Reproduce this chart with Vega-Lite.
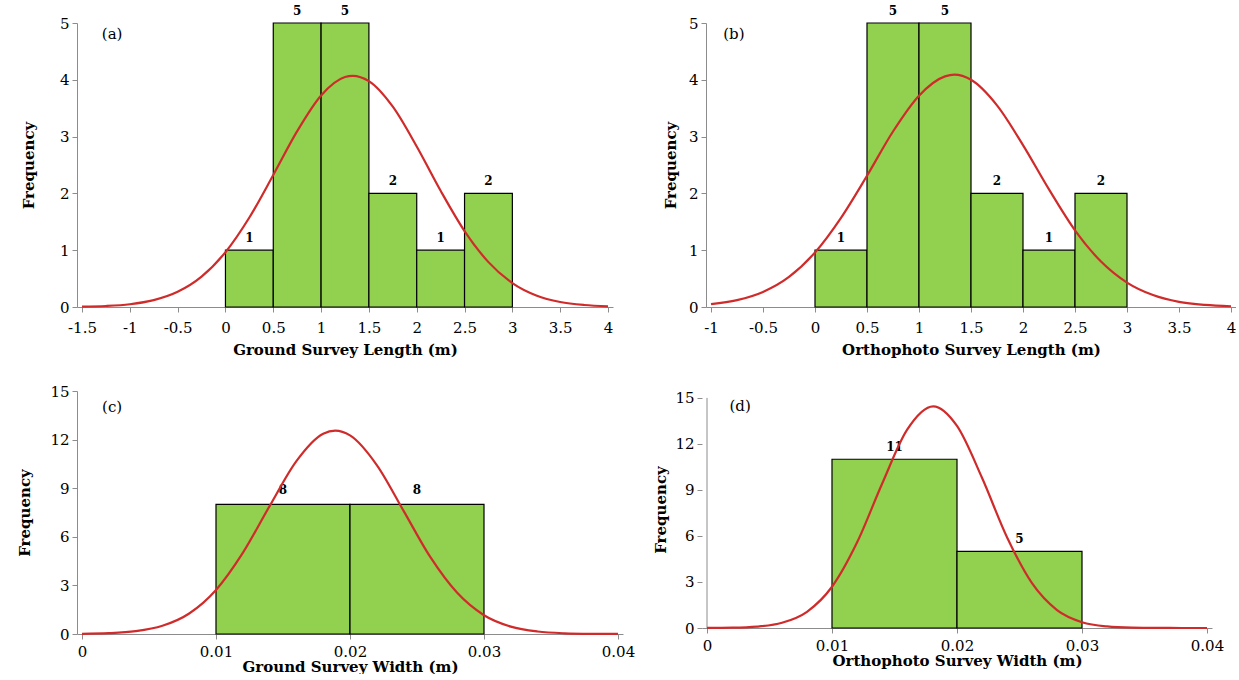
{
  "$schema": "https://vega.github.io/schema/vega-lite/v6.json",
  "padding": {"left": 17, "top": 5, "right": 0, "bottom": 0},
  "background": "white",
  "config": {
    "font": "DejaVu Serif",
    "view": {"stroke": null},
    "axis": {
      "labelFont": "DejaVu Serif", "labelFontSize": 15, "labelColor": "#000",
      "titleFont": "DejaVu Serif", "titleFontSize": 15, "titleFontWeight": "bold", "titleColor": "#000",
      "domainColor": "#8c8c8c", "tickColor": "#8c8c8c", "tickSize": 5, "grid": false, "labelPadding": 3,
      "labelExpr": "'' + datum.value", "labelOverlap": false
    },
    "text": {"font": "DejaVu Serif"}
  },
  "datasets": {
    "barsA": [
      {"bin_start": 0, "bin_end": 0.5, "mid": 0.25, "count": 1},
      {"bin_start": 0.5, "bin_end": 1, "mid": 0.75, "count": 5},
      {"bin_start": 1, "bin_end": 1.5, "mid": 1.25, "count": 5},
      {"bin_start": 1.5, "bin_end": 2, "mid": 1.75, "count": 2},
      {"bin_start": 2, "bin_end": 2.5, "mid": 2.25, "count": 1},
      {"bin_start": 2.5, "bin_end": 3, "mid": 2.75, "count": 2}
    ],
    "barsB": [
      {"bin_start": 0, "bin_end": 0.5, "mid": 0.25, "count": 1},
      {"bin_start": 0.5, "bin_end": 1, "mid": 0.75, "count": 5},
      {"bin_start": 1, "bin_end": 1.5, "mid": 1.25, "count": 5},
      {"bin_start": 1.5, "bin_end": 2, "mid": 1.75, "count": 2},
      {"bin_start": 2, "bin_end": 2.5, "mid": 2.25, "count": 1},
      {"bin_start": 2.5, "bin_end": 3, "mid": 2.75, "count": 2}
    ],
    "barsC": [
      {"bin_start": 0.01, "bin_end": 0.02, "mid": 0.015, "count": 8},
      {"bin_start": 0.02, "bin_end": 0.03, "mid": 0.025, "count": 8}
    ],
    "barsD": [
      {"bin_start": 0.01, "bin_end": 0.02, "mid": 0.015, "count": 11},
      {"bin_start": 0.02, "bin_end": 0.03, "mid": 0.025, "count": 5}
    ],
    "axisD": [
      {"x": 0, "y": 0, "y2": 15}
    ],
    "curveA": [
      {"x": -1.5, "y": 0.006}, {"x": -1.25, "y": 0.018}, {"x": -1.0, "y": 0.049}, {"x": -0.75, "y": 0.121},
      {"x": -0.5, "y": 0.267}, {"x": -0.25, "y": 0.534}, {"x": 0, "y": 0.965}, {"x": 0.25, "y": 1.575},
      {"x": 0.5, "y": 2.324}, {"x": 0.75, "y": 3.096}, {"x": 1.0, "y": 3.725}, {"x": 1.25, "y": 4.049},
      {"x": 1.33, "y": 4.07}, {"x": 1.5, "y": 3.976}, {"x": 1.75, "y": 3.526}, {"x": 2.0, "y": 2.825},
      {"x": 2.25, "y": 2.046}, {"x": 2.5, "y": 1.337}, {"x": 2.75, "y": 0.79}, {"x": 3.0, "y": 0.421},
      {"x": 3.25, "y": 0.203}, {"x": 3.5, "y": 0.088}, {"x": 3.75, "y": 0.035}, {"x": 4.0, "y": 0.012}
    ],
    "curveB": [
      {"x": -1.0, "y": 0.05}, {"x": -0.75, "y": 0.122},
      {"x": -0.5, "y": 0.266}, {"x": -0.25, "y": 0.53}, {"x": 0, "y": 0.96}, {"x": 0.25, "y": 1.57},
      {"x": 0.5, "y": 2.31}, {"x": 0.75, "y": 3.09}, {"x": 1.0, "y": 3.72}, {"x": 1.25, "y": 4.06},
      {"x": 1.34, "y": 4.09}, {"x": 1.5, "y": 4.0}, {"x": 1.75, "y": 3.55}, {"x": 2.0, "y": 2.85},
      {"x": 2.25, "y": 2.07}, {"x": 2.5, "y": 1.35}, {"x": 2.75, "y": 0.8}, {"x": 3.0, "y": 0.43},
      {"x": 3.25, "y": 0.21}, {"x": 3.5, "y": 0.09}, {"x": 3.75, "y": 0.036}, {"x": 4.0, "y": 0.013}
    ],
    "curveC": [
      {"x": 0, "y": 0.013}, {"x": 0.002, "y": 0.051}, {"x": 0.004, "y": 0.173}, {"x": 0.006, "y": 0.506},
      {"x": 0.008, "y": 1.267}, {"x": 0.01, "y": 2.72}, {"x": 0.012, "y": 5.006}, {"x": 0.014, "y": 7.895},
      {"x": 0.016, "y": 10.67}, {"x": 0.018, "y": 12.36}, {"x": 0.0189, "y": 12.55}, {"x": 0.02, "y": 12.26},
      {"x": 0.022, "y": 10.43}, {"x": 0.024, "y": 7.6}, {"x": 0.026, "y": 4.74}, {"x": 0.028, "y": 2.54},
      {"x": 0.03, "y": 1.16}, {"x": 0.032, "y": 0.457}, {"x": 0.034, "y": 0.154}, {"x": 0.036, "y": 0.044},
      {"x": 0.038, "y": 0.011}, {"x": 0.04, "y": 0.003}
    ],
    "curveD": [
      {"x": 0, "y": 0.003}, {"x": 0.002, "y": 0.019}, {"x": 0.004, "y": 0.089}, {"x": 0.006, "y": 0.339},
      {"x": 0.008, "y": 1.058}, {"x": 0.01, "y": 2.69}, {"x": 0.012, "y": 5.57}, {"x": 0.014, "y": 9.39},
      {"x": 0.016, "y": 12.91}, {"x": 0.0181, "y": 14.45}, {"x": 0.02, "y": 13.17},
      {"x": 0.022, "y": 9.79}, {"x": 0.024, "y": 5.92}, {"x": 0.026, "y": 2.92}, {"x": 0.028, "y": 1.17},
      {"x": 0.03, "y": 0.38}, {"x": 0.032, "y": 0.102}, {"x": 0.034, "y": 0.022}, {"x": 0.036, "y": 0.004},
      {"x": 0.038, "y": 0.001}, {"x": 0.04, "y": 0.0}
    ]
  },
  "spacing": 27,
  "vconcat": [
    {
      "spacing": 50,
      "hconcat": [
        {
          "width": 536, "height": 284,
          "layer": [
            {
              "data": {"name": "barsA"},
              "mark": {"type": "bar", "fill": "#92D050", "stroke": "#000", "strokeWidth": 1.2, "orient": "vertical"},
              "encoding": {
                "x": {"field": "bin_start", "type": "quantitative",
                  "scale": {"domain": [-1.5, 4], "nice": false, "zero": false},
                  "axis": {"values": [-1.5, -1, -0.5, 0, 0.5, 1, 1.5, 2, 2.5, 3, 3.5, 4], "title": "Ground Survey Length (m)", "titlePadding": 7, "labelPadding": 8}},
                "x2": {"field": "bin_end"},
                "y": {"field": "count", "type": "quantitative",
                  "scale": {"domain": [0, 5], "nice": false},
                  "axis": {"values": [0, 1, 2, 3, 4, 5], "title": "Frequency", "titlePadding": 23}},
                "y2": {"datum": 0}
              }
            },
            {
              "data": {"name": "barsA"},
              "mark": {"type": "text", "fontWeight": "bold", "fontSize": 12, "dy": -12},
              "encoding": {
                "x": {"field": "mid", "type": "quantitative"},
                "y": {"field": "count", "type": "quantitative"},
                "text": {"field": "count", "type": "quantitative"}
              }
            },
            {
              "data": {"name": "curveA"},
              "mark": {"type": "line", "color": "#D02B2B", "strokeWidth": 2.2, "interpolate": "monotone"},
              "encoding": {
                "x": {"field": "x", "type": "quantitative"},
                "y": {"field": "y", "type": "quantitative"}
              }
            },
            {
              "data": {"values": [{"x": -1.185, "y": 4.8, "label": "(a)"}]},
              "mark": {"type": "text", "fontSize": 15},
              "encoding": {
                "x": {"field": "x", "type": "quantitative"},
                "y": {"field": "y", "type": "quantitative"},
                "text": {"field": "label"}
              }
            }
          ]
        },
        {
          "width": 530, "height": 284,
          "layer": [
            {
              "data": {"name": "barsB"},
              "mark": {"type": "bar", "fill": "#92D050", "stroke": "#000", "strokeWidth": 1.2, "orient": "vertical"},
              "encoding": {
                "x": {"field": "bin_start", "type": "quantitative",
                  "scale": {"domain": [-1, 4], "nice": false, "zero": false},
                  "axis": {"values": [-1, -0.5, 0, 0.5, 1, 1.5, 2, 2.5, 3, 3.5, 4], "title": "Orthophoto Survey Length (m)", "titlePadding": 7, "labelPadding": 8}},
                "x2": {"field": "bin_end"},
                "y": {"field": "count", "type": "quantitative",
                  "scale": {"domain": [0, 5], "nice": false},
                  "axis": {"values": [0, 1, 2, 3, 4, 5], "title": "Frequency", "titlePadding": 10}},
                "y2": {"datum": 0}
              }
            },
            {
              "data": {"name": "barsB"},
              "mark": {"type": "text", "fontWeight": "bold", "fontSize": 12, "dy": -12},
              "encoding": {
                "x": {"field": "mid", "type": "quantitative"},
                "y": {"field": "count", "type": "quantitative"},
                "text": {"field": "count", "type": "quantitative"}
              }
            },
            {
              "data": {"name": "curveB"},
              "mark": {"type": "line", "color": "#D02B2B", "strokeWidth": 2.2, "interpolate": "monotone"},
              "encoding": {
                "x": {"field": "x", "type": "quantitative"},
                "y": {"field": "y", "type": "quantitative"}
              }
            },
            {
              "data": {"values": [{"x": -0.78, "y": 4.8, "label": "(b)"}]},
              "mark": {"type": "text", "fontSize": 15},
              "encoding": {
                "x": {"field": "x", "type": "quantitative"},
                "y": {"field": "y", "type": "quantitative"},
                "text": {"field": "label"}
              }
            }
          ]
        }
      ]
    },
    {
      "spacing": 18,
      "hconcat": [
        {
          "width": 546, "height": 243,
          "layer": [
            {
              "data": {"name": "barsC"},
              "mark": {"type": "bar", "fill": "#92D050", "stroke": "#000", "strokeWidth": 1.2, "orient": "vertical"},
              "encoding": {
                "x": {"field": "bin_start", "type": "quantitative",
                  "scale": {"domain": [0, 0.04], "nice": false, "zero": false},
                  "axis": {"values": [0, 0.01, 0.02, 0.03, 0.04], "title": "Ground Survey Width (m)", "titlePadding": 0, "labelPadding": 5}},
                "x2": {"field": "bin_end"},
                "y": {"field": "count", "type": "quantitative",
                  "scale": {"domain": [0, 15], "nice": false},
                  "axis": {"values": [0, 3, 6, 9, 12, 15], "title": "Frequency", "titlePadding": 17}},
                "y2": {"datum": 0}
              }
            },
            {
              "data": {"name": "barsC"},
              "mark": {"type": "text", "fontWeight": "bold", "fontSize": 12, "dy": -14},
              "encoding": {
                "x": {"field": "mid", "type": "quantitative"},
                "y": {"field": "count", "type": "quantitative"},
                "text": {"field": "count", "type": "quantitative"}
              }
            },
            {
              "data": {"name": "curveC"},
              "mark": {"type": "line", "color": "#D02B2B", "strokeWidth": 2.2, "interpolate": "monotone"},
              "encoding": {
                "x": {"field": "x", "type": "quantitative"},
                "y": {"field": "y", "type": "quantitative"}
              }
            },
            {
              "data": {"values": [{"x": 0.00225, "y": 14.0, "label": "(c)"}]},
              "mark": {"type": "text", "fontSize": 15},
              "encoding": {
                "x": {"field": "x", "type": "quantitative"},
                "y": {"field": "y", "type": "quantitative"},
                "text": {"field": "label"}
              }
            }
          ]
        },
        {
          "width": 510, "height": 237,
          "layer": [
            {
              "data": {"name": "barsD"},
              "mark": {"type": "bar", "fill": "#92D050", "stroke": "#000", "strokeWidth": 1.2, "orient": "vertical"},
              "encoding": {
                "x": {"field": "bin_start", "type": "quantitative",
                  "scale": {"domain": [0, 0.04], "nice": false, "zero": false},
                  "axis": {"values": [0, 0.01, 0.02, 0.03, 0.04], "title": "Orthophoto Survey Width (m)", "titlePadding": 0, "labelPadding": 5}},
                "x2": {"field": "bin_end"},
                "y": {"field": "count", "type": "quantitative",
                  "scale": {"domain": [0, 15.45], "nice": false},
                  "axis": {"values": [0, 3, 6, 9, 12, 15], "title": "Frequency", "titlePadding": 6, "domain": false}},
                "y2": {"datum": 0}
              }
            },
            {
              "data": {"name": "axisD"},
              "mark": {"type": "rule", "color": "#8c8c8c", "strokeWidth": 1},
              "encoding": {
                "x": {"field": "x", "type": "quantitative"},
                "y": {"field": "y", "type": "quantitative"},
                "y2": {"field": "y2"}
              }
            },
            {
              "data": {"name": "barsD"},
              "mark": {"type": "text", "fontWeight": "bold", "fontSize": 12, "dy": -12},
              "encoding": {
                "x": {"field": "mid", "type": "quantitative"},
                "y": {"field": "count", "type": "quantitative"},
                "text": {"field": "count", "type": "quantitative"}
              }
            },
            {
              "data": {"name": "curveD"},
              "mark": {"type": "line", "color": "#D02B2B", "strokeWidth": 2.2, "interpolate": "monotone"},
              "encoding": {
                "x": {"field": "x", "type": "quantitative"},
                "y": {"field": "y", "type": "quantitative"}
              }
            },
            {
              "data": {"values": [{"x": 0.00265, "y": 14.5, "label": "(d)"}]},
              "mark": {"type": "text", "fontSize": 15},
              "encoding": {
                "x": {"field": "x", "type": "quantitative"},
                "y": {"field": "y", "type": "quantitative"},
                "text": {"field": "label"}
              }
            }
          ]
        }
      ]
    }
  ]
}
